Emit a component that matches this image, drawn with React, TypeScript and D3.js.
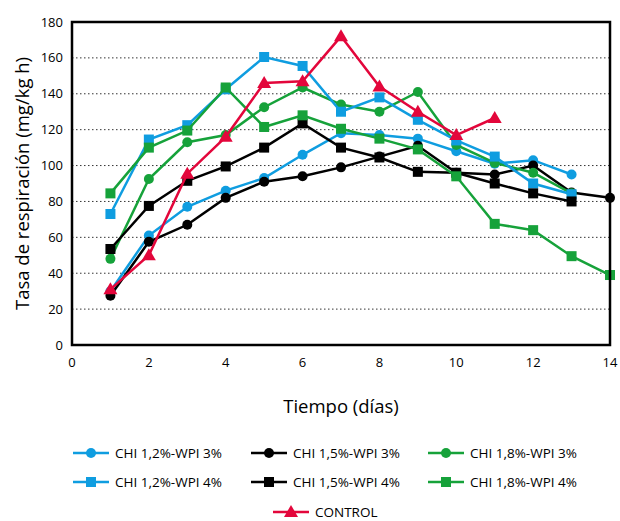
import * as d3 from "d3";
import { useEffect, useRef } from "react";

// days 1..14
const days = [1, 2, 3, 4, 5, 6, 7, 8, 9, 10, 11, 12, 13, 14];

const chi12wpi3 = [30, 61, 77, 86, 93, 106, 118, 117, 115, 108, 101, 103, 95];
const chi15wpi3 = [27.5, 57.5, 67, 82, 91, 94, 99, 105, 111, 96, 95, 100, 85, 82];
const chi18wpi3 = [48, 92.5, 113, 117, 132.5, 143.5, 134, 130, 141, 111.5, 101.5, 96, 84.5];
const chi12wpi4 = [73, 114.5, 122.5, 142.5, 160.5, 155.5, 130, 138, 125.5, 114, 105, 90, 84];
const chi15wpi4 = [53.5, 77.5, 91.5, 99.5, 110, 123.5, 110, 104.5, 96.5, 96, 90, 84.5, 80];
const chi18wpi4 = [84.5, 110, 119.5, 143.5, 121.5, 128, 120.5, 115, 109, 94, 67.5, 64, 49.5, 39];
const control = [31, 50, 95.5, 116, 146, 147, 172, 144, 130, 117, 126.5];

const yTicks = [0, 20, 40, 60, 80, 100, 120, 140, 160, 180];
const xTicks = [0, 2, 4, 6, 8, 10, 12, 14];

const BLUE = "#0f9de0";
const GREEN = "#16a23a";
const RED = "#e3063b";
const BLACK = "#000";

const series = [
  { name: "CHI 1,2%-WPI 3%", values: chi12wpi3, color: BLUE, symbol: "circle" },
  { name: "CHI 1,5%-WPI 3%", values: chi15wpi3, color: BLACK, symbol: "circle" },
  { name: "CHI 1,8%-WPI 3%", values: chi18wpi3, color: GREEN, symbol: "circle" },
  { name: "CHI 1,2%-WPI 4%", values: chi12wpi4, color: BLUE, symbol: "square" },
  { name: "CHI 1,5%-WPI 4%", values: chi15wpi4, color: BLACK, symbol: "square" },
  { name: "CHI 1,8%-WPI 4%", values: chi18wpi4, color: GREEN, symbol: "square" },
  { name: "CONTROL", values: control, color: RED, symbol: "triangle" },
];

const FONT = "'Open Sans', 'Noto Sans', sans-serif";

function drawMarker(g, symbol, x, y, color) {
  if (symbol === "circle") {
    g.append("circle").attr("cx", x).attr("cy", y).attr("r", 5).attr("fill", color);
  } else if (symbol === "square") {
    g.append("rect").attr("x", x - 5).attr("y", y - 5).attr("width", 10).attr("height", 10).attr("fill", color);
  } else {
    g.append("path")
      .attr("d", `M${x},${y - 7}L${x + 7},${y + 5}L${x - 7},${y + 5}Z`)
      .attr("fill", color);
  }
}

export default function App() {
  const ref = useRef(null);

  useEffect(() => {
    document.body.style.margin = "0";
    const el = ref.current;
    if (!el) return;
    el.innerHTML = "";

    const width = 620;
    const height = 521;
    const left = 72, right = 610, top = 22, bottom = 345;

    const svg = d3.select(el)
      .append("svg")
      .attr("width", width)
      .attr("height", height)
      .style("display", "block")
      .style("font-family", FONT);

    const x = d3.scaleLinear().domain([0, 14]).range([left, right]);
    const y = d3.scaleLinear().domain([0, 180]).range([bottom, top]);

    // gridlines
    svg.append("g")
      .selectAll("line")
      .data(yTicks.filter((t) => t > 0 && t < 180))
      .join("line")
      .attr("x1", left)
      .attr("x2", right)
      .attr("y1", (d) => y(d))
      .attr("y2", (d) => y(d))
      .attr("stroke", "#333")
      .attr("stroke-width", 1)
      .attr("stroke-dasharray", "1.5,2.5");

    // y tick labels
    svg.append("g")
      .selectAll("text")
      .data(yTicks)
      .join("text")
      .attr("x", 63)
      .attr("y", (d) => y(d))
      .attr("dy", "0.35em")
      .attr("text-anchor", "end")
      .style("font-size", "13px")
      .text((d) => d);

    // x tick labels
    svg.append("g")
      .selectAll("text")
      .data(xTicks)
      .join("text")
      .attr("x", (d) => x(d))
      .attr("y", 367)
      .attr("text-anchor", "middle")
      .style("font-size", "13px")
      .text((d) => d);

    const line = d3.line().x((d) => x(d[0])).y((d) => y(d[1]));

    series.forEach((s) => {
      const pts = s.values.map((v, i) => [days[i], v]);
      const g = svg.append("g");
      g.append("path")
        .attr("d", line(pts))
        .attr("fill", "none")
        .attr("stroke", s.color)
        .attr("stroke-width", 2.5);
      pts.forEach((p) => drawMarker(g, s.symbol, x(p[0]), y(p[1]), s.color));
    });

    // frame
    svg.append("rect")
      .attr("x", left)
      .attr("y", top)
      .attr("width", right - left)
      .attr("height", bottom - top)
      .attr("fill", "none")
      .attr("stroke", "#000")
      .attr("stroke-width", 2.5);

    // axis titles
    svg.append("text")
      .attr("transform", `translate(29, ${(top + bottom) / 2}) rotate(-90)`)
      .attr("text-anchor", "middle")
      .style("font-size", "18.5px")
      .text("Tasa de respiración (mg/kg h)");

    svg.append("text")
      .attr("x", (left + right) / 2)
      .attr("y", 413)
      .attr("text-anchor", "middle")
      .style("font-size", "18.5px")
      .text("Tiempo (días)");

    // legend
    const legendPos = [
      [73, 453], [251, 453], [428, 453],
      [73, 482], [251, 482], [428, 482],
      [273, 512],
    ];
    series.forEach((s, i) => {
      const [lx, ly] = legendPos[i];
      const g = svg.append("g");
      g.append("line")
        .attr("x1", lx).attr("x2", lx + 36)
        .attr("y1", ly).attr("y2", ly)
        .attr("stroke", s.color)
        .attr("stroke-width", 2.5);
      drawMarker(g, s.symbol, lx + 18, ly, s.color);
      g.append("text")
        .attr("x", lx + 42)
        .attr("y", ly)
        .attr("dy", "0.35em")
        .style("font-size", "13.5px")
        .text(s.name);
    });
  }, []);

  return <div ref={ref} style={{ width: 620, height: 521 }} />;
}
